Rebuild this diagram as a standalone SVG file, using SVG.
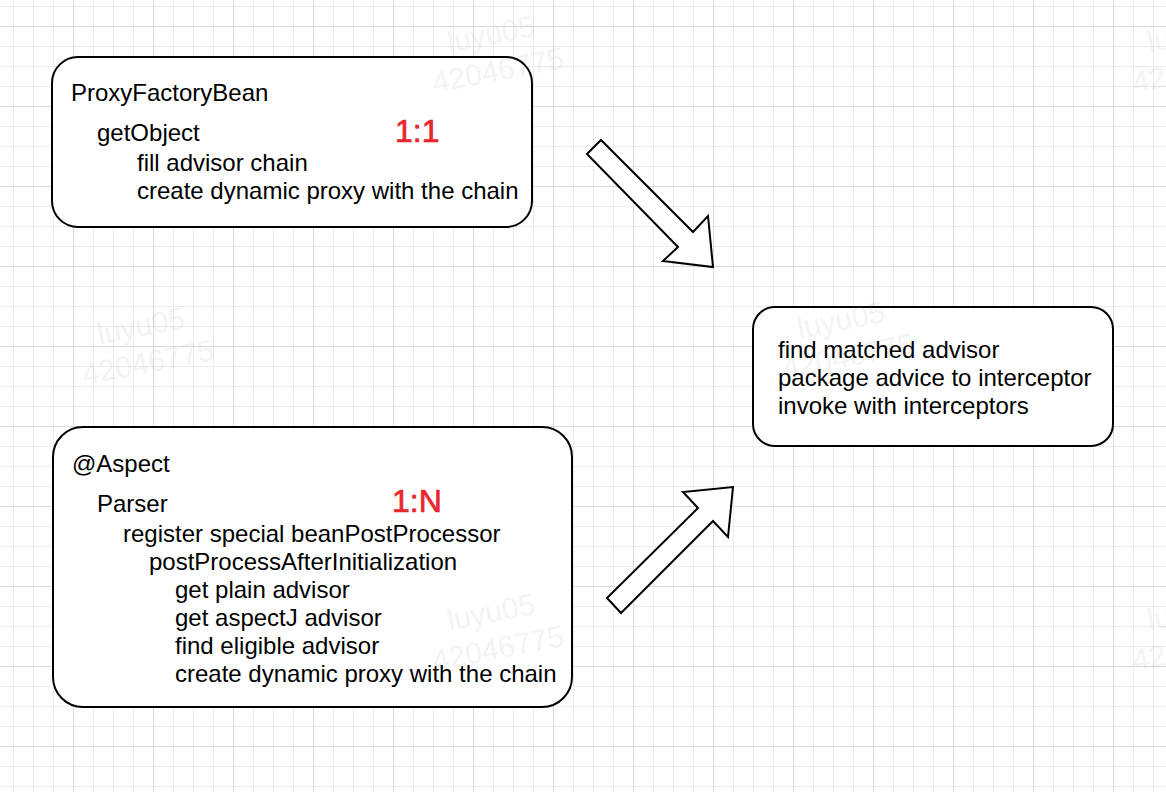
<svg xmlns="http://www.w3.org/2000/svg" width="1166" height="792" viewBox="0 0 1166 792">
<style>
.box{fill:#fff;stroke:#000;stroke-width:2}
.t{font-family:"Liberation Sans",Arial,Helvetica,sans-serif;font-size:24px;fill:#000}
.r{font-family:"Liberation Sans",Arial,Helvetica,sans-serif;font-size:32px;fill:#e8262d;stroke:#e8262d;stroke-width:0.7px}
.arr{fill:#fff;stroke:#000;stroke-width:2;stroke-linejoin:miter}
.wm{font-family:"Liberation Sans",Arial,sans-serif;font-size:30px;fill:#888;opacity:0.09;text-anchor:middle}
</style>
<defs>
<pattern id="minor" patternUnits="userSpaceOnUse" x="13" y="6" width="20" height="20">
<path d="M0.5 0V20M0 0.5H20" stroke="#ececec" stroke-width="1" fill="none"/>
</pattern>
<pattern id="major" patternUnits="userSpaceOnUse" x="73" y="26" width="80" height="80">
<path d="M0.5 0V80M0 0.5H80" stroke="#d9d9d9" stroke-width="1" fill="none"/>
</pattern>
</defs>
<rect width="1166" height="792" fill="#fff"/>
<rect width="1166" height="792" fill="url(#minor)"/>
<rect width="1166" height="792" fill="url(#major)"/>

<g id="node-proxyfactorybean">
<rect class="box" x="52" y="57" width="480" height="170" rx="26" ry="26"/>
<text class="t" x="71" y="101">ProxyFactoryBean</text>
<text class="t" x="97" y="141">getObject</text>
<text class="t" x="137" y="171">fill advisor chain</text>
<text class="t" x="137" y="199">create dynamic proxy with the chain</text>
<text class="r" x="395" y="142">1:1</text>
</g>

<g id="node-aspect">
<rect class="box" x="53" y="427" width="519" height="280" rx="30" ry="30"/>
<text class="t" x="72" y="472">@Aspect</text>
<text class="t" x="97" y="512">Parser</text>
<text class="t" x="123" y="542">register special beanPostProcessor</text>
<text class="t" x="149" y="570">postProcessAfterInitialization</text>
<text class="t" x="175" y="598">get plain advisor</text>
<text class="t" x="175" y="626">get aspectJ advisor</text>
<text class="t" x="175" y="654">find eligible advisor</text>
<text class="t" x="175" y="682">create dynamic proxy with the chain</text>
<text class="r" x="392" y="512">1:N</text>
</g>

<g id="node-invoke">
<rect class="box" x="753" y="307" width="360" height="139" rx="22" ry="22"/>
<text class="t" x="778" y="358">find matched advisor</text>
<text class="t" x="778" y="386">package advice to interceptor</text>
<text class="t" x="778" y="414">invoke with interceptors</text>
</g>

<g id="connectors">
<polygon class="arr" points="587,154 601,140 693,232 708,216 713,267 663,261 678,247"/>
<polygon class="arr" points="607,598 698,508 683,492 733,487 728,537 713,521 621,613"/>
</g>

<g id="watermarks">
<g transform="translate(493,44) rotate(-11)"><text class="wm" x="0" y="0">luyu05</text><text class="wm" x="0" y="37">42046775</text></g>
<g transform="translate(143,336) rotate(-11)"><text class="wm" x="0" y="0">luyu05</text><text class="wm" x="0" y="37">42046775</text></g>
<g transform="translate(843,330) rotate(-11)"><text class="wm" x="0" y="0">luyu05</text><text class="wm" x="0" y="37">42046775</text></g>
<g transform="translate(493,622) rotate(-11)"><text class="wm" x="0" y="0">luyu05</text><text class="wm" x="0" y="37">42046775</text></g>
<g transform="translate(1193,44) rotate(-11)"><text class="wm" x="0" y="0">luyu05</text><text class="wm" x="0" y="37">42046775</text></g>
<g transform="translate(1193,622) rotate(-11)"><text class="wm" x="0" y="0">luyu05</text><text class="wm" x="0" y="37">42046775</text></g>
</g>
</svg>
